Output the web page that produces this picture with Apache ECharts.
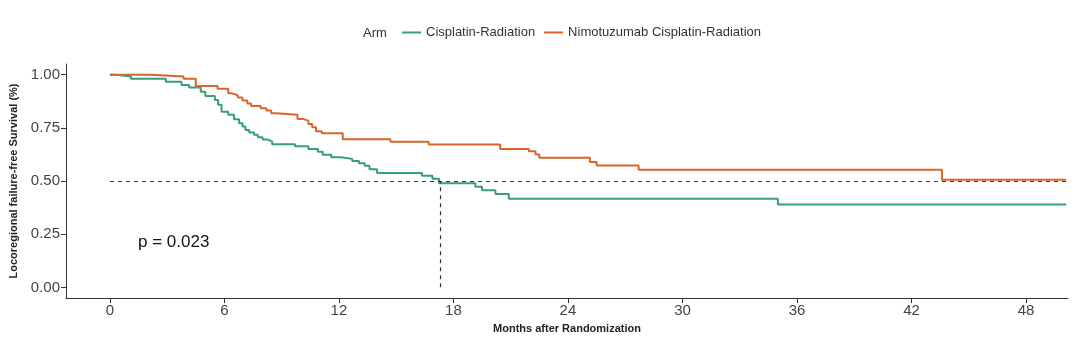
<!DOCTYPE html>
<html>
<head>
<meta charset="utf-8">
<title>Locoregional failure-free survival</title>
<script src="https://cdn.jsdelivr.net/npm/echarts@6/dist/echarts.min.js"></script>
<style>
  html, body { margin: 0; padding: 0; background: #fff; }
  #main { width: 1080px; height: 351px; }
</style>
</head>
<body>
<div id="main"></div>
<script>
// arm names
const armNames = ['Cisplatin-Radiation', 'Nimotuzumab Cisplatin-Radiation']
const armColors = ['#35a077', '#d9652a']

// Kaplan-Meier steps: time (months) where each new level starts, and that level
const cisTime = [0, 0.3, 1.1, 2.93, 3.75, 4.15, 4.76, 5.0, 5.5, 5.67, 5.85, 6.2, 6.5, 6.77, 6.95, 7.1, 7.3, 7.55, 7.75, 8.0, 8.25, 8.5, 9.7, 10.4, 10.9, 11.15, 11.6, 12.1, 12.7, 13.05, 13.35, 13.6, 14.0, 16.35, 16.9, 17.25, 19.15, 19.5, 20.2, 20.9, 35.0, 50.1]
const cisSurv = [1.0, 0.991, 0.981, 0.967, 0.951, 0.940, 0.920, 0.900, 0.881, 0.858, 0.826, 0.811, 0.790, 0.771, 0.756, 0.740, 0.728, 0.717, 0.706, 0.695, 0.686, 0.673, 0.663, 0.651, 0.637, 0.623, 0.612, 0.604, 0.594, 0.584, 0.572, 0.555, 0.538, 0.525, 0.511, 0.490, 0.473, 0.457, 0.439, 0.417, 0.390, 0.390]

const nimoTime = [0, 2.15, 3.86, 4.5, 5.64, 6.2, 6.4, 6.7, 6.95, 7.2, 7.4, 7.9, 8.2, 8.45, 8.7, 9.83, 10.1, 10.4, 10.6, 10.8, 11.1, 12.2, 14.7, 16.7, 20.45, 21.95, 22.3, 22.5, 25.15, 25.5, 27.7, 43.6, 50.1]
const nimoSurv = [1.0, 0.991, 0.981, 0.947, 0.934, 0.912, 0.903, 0.893, 0.878, 0.864, 0.852, 0.842, 0.831, 0.818, 0.811, 0.792, 0.784, 0.768, 0.753, 0.734, 0.724, 0.696, 0.684, 0.671, 0.651, 0.640, 0.624, 0.609, 0.589, 0.573, 0.553, 0.506, 0.506]

// median survival of the cisplatin arm (dashed guide lines)
const medianTime = 17.3
const medianLevel = 0.5

// axis ticks
const xTicks = [0, 6, 12, 18, 24, 30, 36, 42, 48]
const yTicks = [0, 0.25, 0.5, 0.75, 1]

const pText = 'p = 0.023'

const font = '"Liberation Sans", Arial, sans-serif'

const toPairs = (t, s) => t.map((v, i) => [v, s[i]])

const chartInstance = echarts.init(document.getElementById('main'))

const dashStyle = { color: '#333', width: 1.2, type: [4, 4] }

const option = {
  animation: false,
  textStyle: { fontFamily: font },
  grid: { left: 66, right: 12, top: 64, bottom: 53 },
  legend: {
    data: armNames,
    left: 397,
    top: 21,
    icon: 'rect',
    itemWidth: 19,
    itemHeight: 2,
    itemGap: 9,
    textStyle: { fontSize: 13, color: '#333', fontFamily: font }
  },
  graphic: [
    {
      type: 'text',
      left: 363,
      top: 27,
      style: { text: 'Arm', fontSize: 13, fill: '#333', fontFamily: font }
    },
    {
      type: 'text',
      left: 138,
      top: 234,
      style: { text: pText, fontSize: 17, fill: '#111', fontFamily: font }
    }
  ],
  xAxis: {
    type: 'value',
    min: -2.3,
    max: 50.2,
    name: 'Months after Randomization',
    nameLocation: 'middle',
    nameGap: 25,
    nameTextStyle: { fontSize: 11, fontWeight: 'bold', color: '#222', fontFamily: font },
    axisLine: { onZero: false, lineStyle: { color: '#333', width: 1 } },
    axisTick: { show: true, length: 5, customValues: xTicks, lineStyle: { color: '#333' } },
    axisLabel: { customValues: xTicks, fontSize: 15, color: '#444', margin: 5 },
    splitLine: { show: false }
  },
  yAxis: {
    type: 'value',
    min: -0.05,
    max: 1.05,
    name: 'Locoregional failure-free Survival (%)',
    nameLocation: 'middle',
    nameRotate: 90,
    nameGap: 45,
    nameTextStyle: { fontSize: 11, fontWeight: 'bold', color: '#222', fontFamily: font },
    axisLine: { show: true, onZero: false, lineStyle: { color: '#333', width: 1 } },
    axisTick: { show: true, length: 5, customValues: yTicks, lineStyle: { color: '#333' } },
    axisLabel: {
      customValues: yTicks,
      fontSize: 15,
      color: '#444',
      margin: 6,
      formatter: v => v.toFixed(2)
    },
    splitLine: { show: false }
  },
  series: [
    {
      name: armNames[0],
      type: 'line',
      step: 'end',
      symbol: 'none',
      color: armColors[0],
      lineStyle: { width: 2, color: armColors[0] },
      data: toPairs(cisTime, cisSurv),
      z: 2
    },
    {
      name: armNames[1],
      type: 'line',
      step: 'end',
      symbol: 'none',
      color: armColors[1],
      lineStyle: { width: 2, color: armColors[1] },
      data: toPairs(nimoTime, nimoSurv),
      z: 3,
      markLine: {
        silent: true,
        symbol: 'none',
        label: { show: false },
        lineStyle: dashStyle,
        data: [
          [{ coord: [0, medianLevel] }, { coord: [50.2, medianLevel] }],
          [{ coord: [medianTime, 0] }, { coord: [medianTime, medianLevel] }]
        ]
      }
    }
  ]
}

chartInstance.setOption(option)
</script>
</body>
</html>
